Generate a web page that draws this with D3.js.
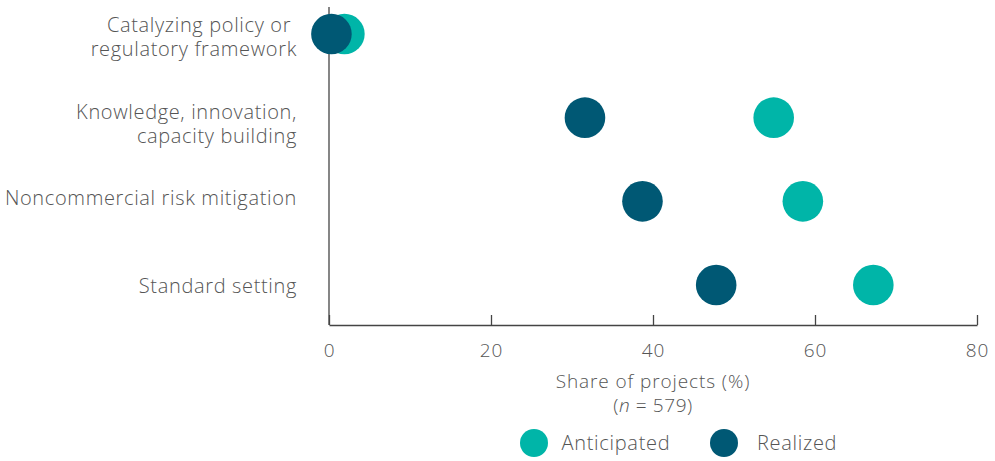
<!DOCTYPE html>
<html><head><meta charset="utf-8">
<script src="https://cdn.jsdelivr.net/npm/d3@7"></script>
<style>
body{margin:0;background:#fff;}
text{font-family:"Open Sans",Lato,sans-serif;font-weight:300;fill:#555;}
</style></head>
<body><svg id="c" width="995" height="461"></svg>
<script>
const categories = [
  ["Catalyzing policy or ", "regulatory framework"],
  ["Knowledge, innovation,", "capacity building"],
  ["Noncommercial risk mitigation"],
  ["Standard setting"]
];
const anticipated = [1.9, 54.9, 58.5, 67.2];
const realized = [0.3, 31.6, 38.7, 47.8];
const xTicks = [0, 20, 40, 60, 80];
const seriesNames = ["Anticipated", "Realized"];
const colors = ["#00b5a8", "#005874"];
// layout: baseline of first label line relative to row centre
const labelBaseline = [-2.3, 1.3, 3.3, 8.3];
const lineGap = 23.8;
const legCircleX = [534, 724];
const legTextX = [561.5, 757];

const svg = d3.select("#c");
const x = d3.scaleLinear().domain([0, 80]).range([329, 977]);
const y = d3.scalePoint().domain(d3.range(categories.length)).range([34, 285]);

// x axis
const xa = svg.append("g").attr("transform", "translate(0,325)")
  .call(d3.axisBottom(x).tickValues(xTicks).tickSize(-10).tickPadding(16).tickSizeOuter(0));
xa.select(".domain").attr("stroke", "#444").attr("stroke-width", 1.3);
xa.selectAll(".tick line").attr("stroke", "#444").attr("stroke-width", 1.3);
xa.selectAll(".tick text").style("font-size", "19px").style("letter-spacing", "0.8px").attr("dy", "0.85em");

// y axis line
svg.append("line").attr("x1", x(0)).attr("x2", x(0)).attr("y1", 7).attr("y2", 325)
  .attr("stroke", "#444").attr("stroke-width", 1.3);

// category labels
categories.forEach((lines, i) => {
  const t = svg.append("text").attr("text-anchor", "end").style("font-size", "20px")
    .style("letter-spacing", "0.65px");
  lines.forEach((l, j) => {
    t.append("tspan").attr("x", 297).attr("y", y(i) + labelBaseline[i] + j * lineGap).text(l);
  });
});

// dots
svg.append("g").selectAll("circle").data(anticipated).join("circle")
  .attr("cx", d => x(d)).attr("cy", (d, i) => y(i)).attr("r", 20.3).attr("fill", colors[0]);
svg.append("g").selectAll("circle").data(realized).join("circle")
  .attr("cx", d => x(d)).attr("cy", (d, i) => y(i)).attr("r", 20.3).attr("fill", colors[1]);

// axis title
svg.append("text").attr("x", 653).attr("y", 381).attr("dy", "0.35em").attr("text-anchor", "middle")
  .style("font-size", "19px").style("letter-spacing", "0.9px").text("Share of projects (%)");
const nt = svg.append("text").attr("x", 653).attr("y", 405).attr("dy", "0.35em").attr("text-anchor", "middle")
  .style("font-size", "19px").style("letter-spacing", "0.6px");
nt.append("tspan").text("(");
nt.append("tspan").style("font-style", "italic").text("n");
nt.append("tspan").text(" = 579)");

// legend
seriesNames.forEach((s, i) => {
  svg.append("circle").attr("cx", legCircleX[i]).attr("cy", 443).attr("r", 14).attr("fill", colors[i]);
  svg.append("text").attr("x", legTextX[i]).attr("y", 443).attr("dy", "0.35em")
    .style("font-size", "20px").style("letter-spacing", "0.7px").text(s);
});
</script></body></html>
